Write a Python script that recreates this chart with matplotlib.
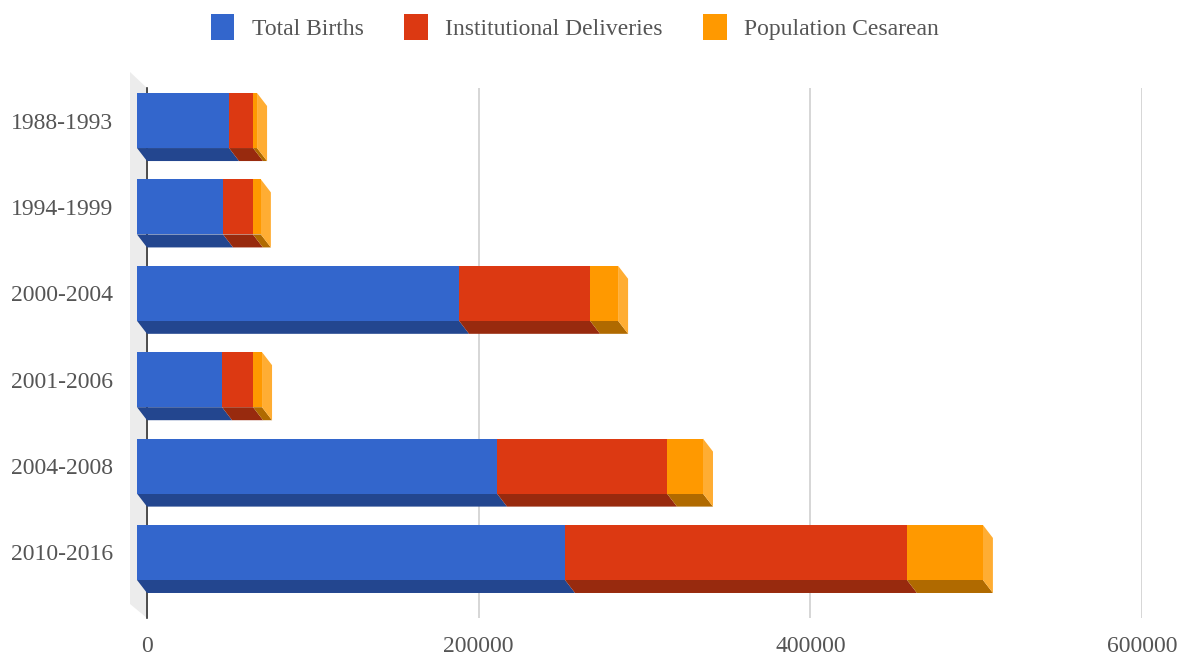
import matplotlib
matplotlib.use("Agg")
import matplotlib.pyplot as plt
from matplotlib.patches import Polygon, Patch
from matplotlib.transforms import ScaledTranslation

categories = ["1988-1993", "1994-1999", "2000-2004", "2001-2006", "2004-2008", "2010-2016"]
series_names = ["Total Births", "Institutional Deliveries", "Population Cesarean"]
total_births = [55500, 51900, 194200, 51300, 217100, 258100]
institutional = [14500, 18000, 79000, 18700, 102500, 206200]
cesarean = [2400, 4800, 16900, 5400, 21700, 45800]
x_ticks = [0, 200000, 400000, 600000]
x_tick_labels = ["0", "200000", "400000", "600000"]

front_colors = ["#3366cc", "#dc3912", "#ff9900"]
bottom_colors = ["#23468f", "#982a0e", "#b06a00"]
side_color = "#ffad33"

FONT = ["Liberation Serif", "DejaVu Serif"]
plt.rcParams["font.family"] = FONT

W, H = 1185, 656
fig = plt.figure(figsize=(W / 100, H / 100), dpi=100)
left_px, right_px, top_px, bot_px = 147, 1142, 88, 618
ax = fig.add_axes([left_px / W, 1 - bot_px / H, (right_px - left_px) / W, (bot_px - top_px) / H])
ax.set_xlim(0, 600000)
ax.set_ylim(5.608, -0.527)
for s in ["top", "right", "bottom"]:
    ax.spines[s].set_visible(False)
ax.spines["left"].set_color("#333333")
ax.spines["left"].set_linewidth(1.2)
ax.spines["left"].set_zorder(1)

# pixel -> data offsets for the depth effect
px_x = 600000 / (right_px - left_px)
px_y = (5.608 + 0.527) / (bot_px - top_px)
ddx = 10 * px_x      # back is right of front
ddy = 13 * px_y      # back is lower than front (inverted y axis -> +)

# side wall
ax.add_patch(Polygon([(0, -0.527), (0, 5.608), (-17 * px_x, 5.608 - 14 * px_y), (-17 * px_x, -0.527 - 16 * px_y)],
                     closed=True, facecolor="#ececec", edgecolor="none", clip_on=False, zorder=0.5))

ax.set_xticks(x_ticks)
ax.set_xticklabels(x_tick_labels)
ax.grid(axis="x", color="#d0d0d0", linewidth=1.2, zorder=0)
ax.set_axisbelow(True)
ax.tick_params(axis="x", length=0, pad=13, labelsize=17, labelcolor="#555555")

ax.set_yticks(range(len(categories)))
ax.set_yticklabels(categories)
ax.tick_params(axis="y", length=0, pad=24.5, labelsize=17, labelcolor="#555555")
for lab in ax.get_yticklabels():
    lab.set_transform(lab.get_transform() + ScaledTranslation(0, 0.13, fig.dpi_scale_trans))

h = 0.637
series = [total_births, institutional, cesarean]
for i in range(len(categories)):
    start = 0
    yt = i - h / 2 - ddy      # front top
    yb = i + h / 2 - ddy      # front bottom
    segs = []
    for k, vals in enumerate(series):
        v = vals[i]
        segs.append((k, start, start + v))
        start += v
    for k, x0, x1 in segs:
        fx0, fx1 = x0 - ddx, x1 - ddx
        # bottom face
        ax.add_patch(Polygon([(fx0, yb), (fx1, yb), (x1, yb + ddy), (x0, yb + ddy)], closed=True,
                             facecolor=bottom_colors[k], edgecolor="none", clip_on=False, zorder=2))
        # front face
        ax.add_patch(Polygon([(fx0, yt), (fx1, yt), (fx1, yb), (fx0, yb)], closed=True,
                             facecolor=front_colors[k], edgecolor="none", clip_on=False, zorder=3))
    k, x0, x1 = segs[-1]
    ax.add_patch(Polygon([(x1 - ddx, yt), (x1, yt + ddy), (x1, yb + ddy), (x1 - ddx, yb)], closed=True,
                         facecolor=side_color, edgecolor="none", clip_on=False, zorder=2.5))

handles = [Patch(facecolor=c, edgecolor="none") for c in front_colors]
leg = fig.legend(handles, series_names, loc="center", bbox_to_anchor=(575 / W, 1 - 27 / H), ncol=3,
                 frameon=False, fontsize=17, handlelength=1.0, handleheight=1.3, handletextpad=0.75,
                 columnspacing=1.7)
for t in leg.get_texts():
    t.set_color("#555555")

fig.savefig("out.png", dpi=100)
